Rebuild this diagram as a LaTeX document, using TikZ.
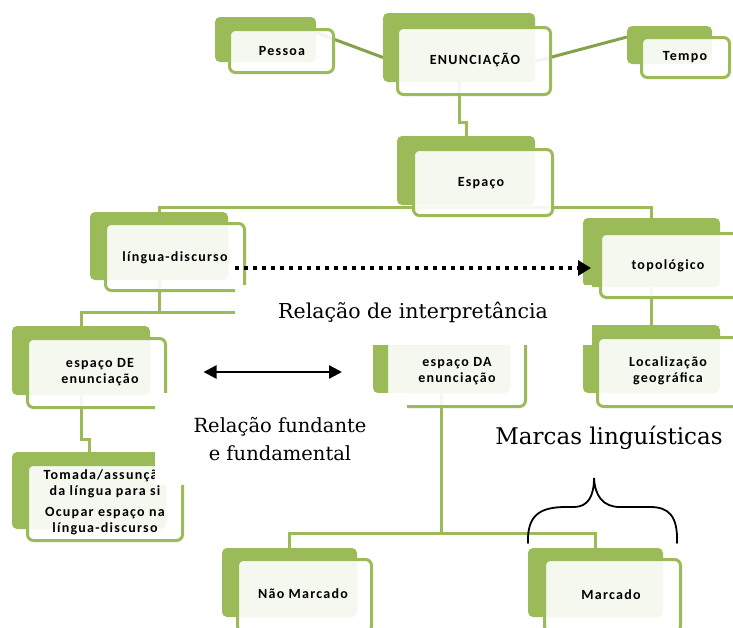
\documentclass[tikz,border=0pt]{standalone}
\usepackage{fontspec}
\setmainfont{DejaVu Serif}
\newfontfamily\boxfont[LetterSpace=9]{Carlito}
\usetikzlibrary{arrows.meta,calc,fit}
\definecolor{ogreen}{HTML}{9BBB59}
\definecolor{dgreen}{HTML}{84A24A}
\pgfdeclarelayer{bg}
\pgfdeclarelayer{occ}
\pgfsetlayers{bg,main,occ}
\newcommand\gpair[5]{%
  \node[backbox, fit={#2 #3}] (#1B) {};
  \node[frontbox, fit={#4 #5}] (#1F) {};}
\begin{document}
\begin{tikzpicture}[x=1pt,y=-1pt,
  backbox/.style={fill=ogreen, rounded corners=5pt, inner sep=0pt, outer sep=0pt},
  frontbox/.style={draw=ogreen, line width=3pt, fill=white, fill opacity=0.9, rounded corners=6pt, inner sep=0pt, outer sep=0pt},
  boxtext/.style={font=\boxfont\bfseries\fontsize{14}{16}\selectfont, align=center, text=black, inner sep=0pt},
  conn/.style={draw=ogreen, line width=3pt},
  diag/.style={draw=dgreen, line width=3pt},
  label/.style={align=center, text=black, inner sep=0pt},
  dotarrow/.style={line width=3.5pt, dash pattern=on 4.5pt off 4.5pt, -{Triangle[length=13pt,width=15pt]}},
  dblarrow/.style={line width=2.5pt, {Triangle[length=13pt,width=13pt]}-{Triangle[length=13pt,width=13pt]}},
  bracestyle/.style={line width=1.8pt, line cap=round}
]
\useasboundingbox (0,0) rectangle (733,627);

% boxes
\gpair{pes}{(215,17)}{(316,62)}{(229.5,29.5)}{(333.5,72.5)}
\gpair{enun}{(383,13)}{(535,82)}{(397.5,27.5)}{(550.5,94.5)}
\gpair{tempo}{(627,26)}{(712,64)}{(641.5,37.5)}{(729.5,77.5)}
\gpair{esp}{(397,136)}{(535,205)}{(413.5,149.5)}{(552.5,215.5)}
\gpair{lingua}{(90,212)}{(228,280)}{(105.5,223.5)}{(244.5,290.5)}
\gpair{topo}{(583,218)}{(720,287)}{(600.5,233.5)}{(741,297.5)}
\gpair{loc}{(583,325)}{(720,393)}{(597.5,337.5)}{(741,406.5)}
\gpair{de}{(12,326)}{(150,395)}{(27.5,338.5)}{(165.5,407.5)}
\gpair{da}{(373,324)}{(510,393)}{(386.5,338.5)}{(525.5,406.5)}
\gpair{tom}{(12,452)}{(166,529)}{(27.5,464.5)}{(182.5,540.5)}
\gpair{nao}{(222,548)}{(357,617)}{(237.5,559.5)}{(371.5,632)}
\gpair{mar}{(528,548)}{(663,617)}{(544.5,559.5)}{(680.5,632)}

% box texts
\node[boxtext] (tpes) at (282,51) {Pessoa};
\node[boxtext] (tenun) at (475,60) {ENUNCIAÇÃO};
\node[boxtext] (ttempo) at (685,57) {Tempo};
\node[boxtext] (tesp) at (481,183) {Espaço};
\node[boxtext] (tlingua) at (175,258) {língua-discurso};
\node[boxtext] (ttopo) at (668,266) {topológico};
\node[boxtext] (tloc) at (668,371) {Localização\\geográfica};
\node[boxtext] (tde) at (100,372) {espaço DE\\enunciação};
\node[boxtext] (tda) at (457,371) {espaço DA\\enunciação};
\node[boxtext] (ttom) at (105,502) {Tomada/assunção\\da língua para si\\[5pt]Ocupar espaço na\\língua-discurso};
\node[boxtext] (tnao) at (303,594) {Não Marcado};
\node[boxtext] (tmar) at (611,595) {Marcado};

% connectors
\begin{pgfonlayer}{bg}
  \fill[white] (0,0) rectangle (733,627);
  \draw[diag] ($(pesB.east)+(0,-7)$) -- ($(enunB.west)+(0,10)$);
  \draw[diag] ($(enunB.east)+(0,14)$) -- ($(tempoB.west)+(0,-8)$);
  \draw[conn] (enunB.south) -- ++(0,40) -| (espB.north);
  \draw[conn] (linguaB.north) -- ++(0,-5) -| (topoB.north);
  \draw[conn] (topoB.south -| locB.north) -- (locB.north);
  \draw[conn] (linguaB.south) -- ++(0,32) coordinate (ldjoin);
  \draw[conn] (deB.north) |- (ldjoin) -| (daB.north);
  \draw[conn] (deB.south) -- ++(0,44) -| (tomB.north);
  \draw[conn] (daB.south) -- ++(0,140) coordinate (dajoin);
  \draw[conn] (naoB.north) |- (dajoin) -| (marB.north);
\end{pgfonlayer}

% occluders, free labels and arrows
\begin{pgfonlayer}{occ}
  \fill[white] (235,285) rectangle (592,345);
  \fill[white] (155,393) rectangle (407,485);
  \node[label, font=\fontsize{20.5}{24}\selectfont] (rinterp) at (413,312) {Relação de interpretância};
  \node[label, font=\fontsize{19.5}{28}\selectfont] (rfund) at (280,439) {Relação fundante\\e fundamental};
  \node[label, font=\fontsize{23}{27}\selectfont] (marcas) at (609,438) {Marcas linguísticas};
  \draw[dotarrow] ($(linguaF.east)+(-10,11)$) -- ($(topoB.west)+(8,15.5)$);
  \draw[dblarrow] ($(deF.east)+(38,-1)$) -- ($(daB.west)+(-31,13.5)$);
  \coordinate (brL) at (528,543);
  \coordinate (brR) at (677,543);
  \coordinate (brT) at (594,478);
  \draw[bracestyle] (brL) .. controls (527,515) and (540,507) .. (566,507)
     -- (574,507) .. controls (588,507) and (594,496) .. (brT)
     .. controls (595,496) and (603,507) .. (620,507)
     -- (650,507) .. controls (668,507) and (678,515) .. (brR);
\end{pgfonlayer}
\end{tikzpicture}
\end{document}
